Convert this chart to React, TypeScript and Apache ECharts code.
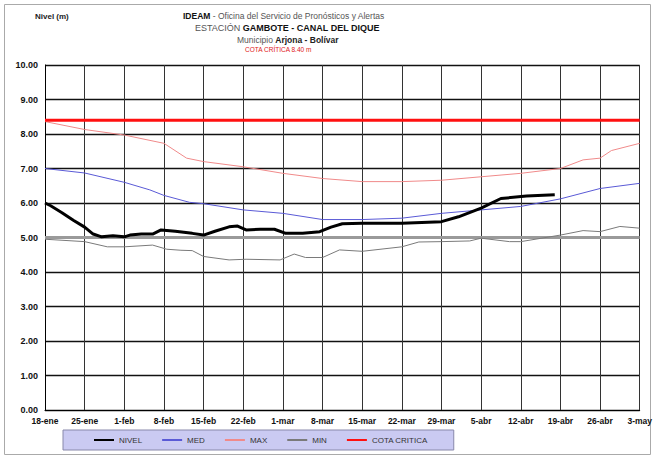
import React, { useEffect, useRef } from "react";
import * as echarts from "echarts";

const tickLabels = ["18-ene","25-ene","1-feb","8-feb","15-feb","22-feb","1-mar","8-mar","15-mar","22-mar","29-mar","5-abr","12-abr","19-abr","26-abr","3-may"];

const nivel: [number, number][] = [[0,6.0],[1,5.92],[3,5.72],[5,5.5],[7,5.3],[8.5,5.1],[10,5.02],[12,5.05],[14,5.02],[15,5.07],[17,5.1],[19,5.1],[20.5,5.22],[23,5.18],[26,5.12],[28,5.07],[30,5.18],[32.5,5.31],[34,5.33],[35.5,5.22],[38,5.24],[40.5,5.24],[42.5,5.12],[45.5,5.12],[48.5,5.17],[50.5,5.3],[52.5,5.4],[56,5.41],[63,5.41],[70,5.46],[73,5.6],[77,5.85],[80.5,6.13],[85,6.2],[90,6.24]];
const med: [number, number][] = [[0,7.0],[7,6.87],[14,6.6],[18.5,6.38],[21,6.22],[25.5,6.02],[28,5.98],[35,5.8],[42,5.7],[49,5.52],[56,5.52],[63,5.56],[70,5.7],[77,5.8],[84,5.9],[91,6.12],[98,6.42],[105,6.57]];
const max: [number, number][] = [[0,8.36],[7,8.13],[14,7.97],[21,7.73],[25,7.3],[28,7.2],[35,7.05],[42,6.86],[49,6.71],[56,6.62],[63,6.62],[70,6.66],[77,6.76],[84,6.86],[91,7.0],[95,7.25],[98,7.3],[100,7.52],[105,7.73]];
const min: [number, number][] = [[0,4.95],[7,4.88],[11,4.73],[14,4.73],[19,4.78],[21.5,4.66],[24,4.63],[26,4.62],[28,4.45],[32.5,4.35],[35.5,4.37],[41.5,4.35],[44,4.52],[46,4.42],[49,4.42],[52,4.64],[56,4.6],[63,4.73],[66,4.87],[70,4.88],[75,4.9],[77,4.98],[82,4.88],[84,4.88],[91,5.07],[95,5.2],[98,5.17],[101.5,5.32],[105,5.27]];
const cotaCritica = 8.4;
const referenceLevel = 5.0;
const lastDay = 105;

const FONT = "'Liberation Sans', Arial, sans-serif";

export default function App() {
  const ref = useRef<HTMLDivElement>(null);
  useEffect(() => {
    if (!ref.current) return;
    const chart = echarts.init(ref.current, null, { renderer: "svg" });
    const lineSeries = (name: string, data: [number, number][], color: string, width: number, z: number) => ({
      name, type: "line", data, symbol: "none", showSymbol: false, z,
      lineStyle: { color, width }, itemStyle: { color },
    });
    chart.setOption({
      animation: false,
      backgroundColor: "#fff",
      textStyle: { fontFamily: FONT },
      grid: { left: 45, right: 15, top: 65, bottom: 46 },
      xAxis: {
        type: "value", min: 0, max: lastDay, interval: 7,
        axisLine: { lineStyle: { color: "#000", width: 1 } },
        axisTick: { show: false },
        axisLabel: {
          margin: 6, fontSize: 8.5, fontWeight: "bold", color: "#111", fontFamily: FONT,
          formatter: (v: number) => tickLabels[Math.round(v / 7)] ?? "",
        },
        splitLine: { show: true, lineStyle: { color: "#333", width: 1 } },
      },
      yAxis: {
        type: "value", min: 0, max: 10, interval: 1,
        axisLine: { show: true, lineStyle: { color: "#000", width: 1 } },
        axisTick: { show: false },
        axisLabel: {
          margin: 7, fontSize: 9, fontWeight: "bold", color: "#111", fontFamily: FONT,
          formatter: (v: number) => v.toFixed(2),
        },
        splitLine: { show: true, lineStyle: { color: "#111", width: 1.3 } },
      },
      legend: {
        left: 63, top: 430,
        itemWidth: 20, itemHeight: 8, itemGap: 19,
        padding: [6, 26, 6, 30],
        backgroundColor: "#cacaf2",
        borderColor: "#8888aa", borderWidth: 1,
        itemStyle: { opacity: 0 },
        textStyle: { fontSize: 8, color: "#333", fontFamily: FONT },
        data: ["NIVEL", "MED", "MAX", "MIN", "COTA CRITICA"],
      },
      series: [
        {
          ...lineSeries("NIVEL", nivel, "#000", 3, 10),
          markLine: {
            silent: true, symbol: "none", label: { show: false },
            lineStyle: { color: "#9a9a9a", width: 3, type: "solid" },
            data: [{ yAxis: referenceLevel }],
          },
        },
        lineSeries("MED", med, "#5a5ad6", 1, 5),
        lineSeries("MAX", max, "#f08a8a", 1, 5),
        lineSeries("MIN", min, "#7a7a7a", 1, 5),
        lineSeries("COTA CRITICA", [[0, cotaCritica], [lastDay, cotaCritica]], "#ff1010", 3, 6),
      ],
      graphic: [
        { type: "rect", shape: { x: 4.5, y: 4.5, width: 646, height: 450 }, style: { fill: "none", stroke: "#aaa", lineWidth: 1 }, silent: true },
        { type: "text", x: 35, y: 12, style: { text: "Nivel (m)", font: `bold 8px ${FONT}`, fill: "#222" } },
        {
          type: "text", x: 183, y: 11,
          style: {
            text: "{b|IDEAM} - Oficina del Servicio de Pronósticos y Alertas",
            font: `8.5px ${FONT}`, fill: "#555",
            rich: { b: { fontWeight: "bold", fontSize: 8.5, fill: "#111", fontFamily: FONT } },
          },
        },
        {
          type: "text", x: 195, y: 23,
          style: {
            text: "ESTACIÓN {b|GAMBOTE - CANAL DEL DIQUE}",
            font: `9px ${FONT}`, fill: "#555",
            rich: { b: { fontWeight: "bold", fontSize: 9, fill: "#111", fontFamily: FONT } },
          },
        },
        {
          type: "text", x: 237, y: 35,
          style: {
            text: "Municipio {b|Arjona - Bolívar}",
            font: `8.5px ${FONT}`, fill: "#555",
            rich: { b: { fontWeight: "bold", fontSize: 8.5, fill: "#222", fontFamily: FONT } },
          },
        },
        { type: "text", x: 245, y: 46, style: { text: "COTA CRÍTICA 8.40 m", font: `6.5px ${FONT}`, fill: "#e02020" } },
      ],
    });
    return () => chart.dispose();
  }, []);
  return <div ref={ref} style={{ position: "fixed", left: 0, top: 0, width: 655, height: 456 }} />;
}
